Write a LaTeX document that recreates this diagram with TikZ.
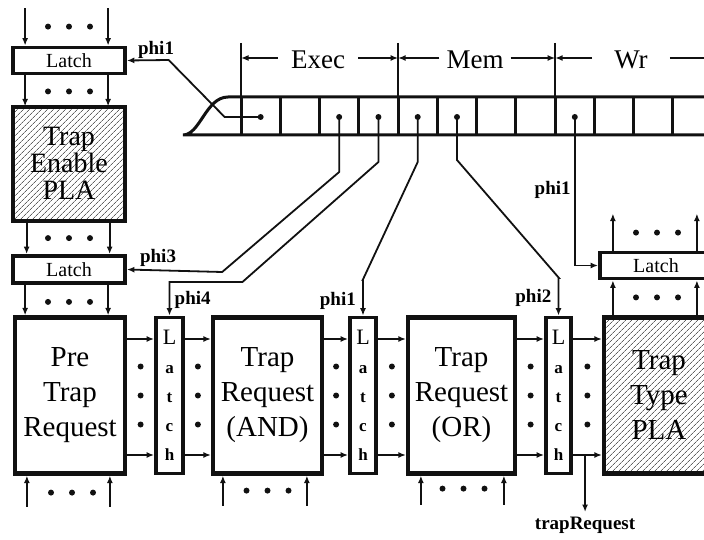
\documentclass[tikz,border=0pt]{standalone}
\usepackage{fontspec}
\setmainfont{Liberation Serif}
\usetikzlibrary{positioning,arrows.meta,calc,patterns.meta}
\definecolor{cInk}  {HTML}{111111}
\definecolor{cHatch}{HTML}{606060}
\tikzset{
  >={Latex[length=7.5pt,width=6pt]},
  sbox/.style={draw=cInk,line width=4.2pt,align=center,inner sep=0pt,
               minimum width=110pt,minimum height=156pt,
               font=\fontsize{29}{35}\selectfont},
  spla/.style={sbox,pattern={Lines[angle=45,distance=4pt,line width=0.7pt]},
               pattern color=cHatch},
  slat/.style={draw=cInk,line width=3.8pt,minimum width=112pt,minimum height=26pt,
               inner sep=0pt,font=\fontsize{20}{20}\selectfont},
  svlat/.style={draw=cInk,line width=3.8pt,minimum width=26pt,minimum height=156pt,
                inner sep=0pt,align=center,font=\bfseries\fontsize{17}{29}\selectfont},
  sar/.style ={->,line width=1.8pt,cInk},
  sin/.style ={<-,line width=1.8pt,cInk},
  sdim/.style={->,line width=1.5pt,cInk},
  sphi/.style={font=\bfseries\fontsize{19}{19}\selectfont,inner sep=1pt},
  sstg/.style={font=\fontsize{27}{27}\selectfont,inner ysep=0pt},
  spipe/.style={line width=3pt,cInk},
}
\newcommand{\rowdots}[2]{\foreach \k in {-1,0,1}
  \fill[cInk] ($(#1)+(#2)+(\k*21,0)$) circle (3pt);}
\newcommand{\coldots}[1]{\foreach \k in {-1,0,1}
  \fill[cInk] ($(#1)+(0,\k*29)$) circle (3pt);}
\begin{document}
\begin{tikzpicture}[x=1pt,y=-1pt]
  \useasboundingbox (0,0) rectangle (704,540);
  \clip (0,0) rectangle (704,540);
  % left column
  \node[slat] (latA) at (69,60.5) {Latch};
  \node[spla,minimum width=112pt,minimum height=114pt,
        font=\fontsize{28}{27}\selectfont,below=31pt of latA] (tep) {Trap\\Enable\\PLA};
  \node[slat,minimum height=27pt,below=33pt of tep] (latB) {Latch};
  % lower row
  \node[sbox] (pre) at (70,395.5) {Pre\\Trap\\Request};
  \node[svlat,minimum width=27pt,right=27pt of pre] (lv1)
       {{\mdseries\fontsize{22}{29}\selectfont L}\\a\\t\\c\\h};
  \node[sbox,minimum width=109pt,right=26pt of lv1] (andb) {Trap\\Request\\(AND)};
  \node[svlat,right=24pt of andb] (lv2)
       {{\mdseries\fontsize{22}{29}\selectfont L}\\a\\t\\c\\h};
  \node[sbox,minimum width=107pt,right=28pt of lv2] (orb) {Trap\\Request\\(OR)};
  \node[svlat,minimum width=25pt,right=27pt of orb] (lv3)
       {{\mdseries\fontsize{22}{29}\selectfont L}\\a\\t\\c\\h};
  \node[spla,right=29pt of lv3] (ttp) {Trap\\Type\\PLA};
  \node[slat,above=35pt of ttp,xshift=-3pt] (latC) {Latch};

  \foreach \xs in {14,97} {
    \draw[sin] ([xshift=\xs pt]latA.north west) -- ++(0,-38);
    \draw[sar] ([xshift=\xs pt]latA.south west) -- ([xshift=\xs pt]latA.south west |- tep.north);
    \draw[sar] ([xshift=\xs pt]tep.south west) -- ([xshift=\xs pt]tep.south west |- latB.north);
    \draw[sar] ([xshift=\xs pt]latB.south west) -- ([xshift=\xs pt]latB.south west |- pre.north);
    \draw[sin] ([xshift=\xs pt]pre.south west) -- ++(0,31);
  }
  \foreach \xs in {12,96} \draw[sin] ([xshift=\xs pt]andb.south west) -- ++(0,30);
  \foreach \xs in {15,98} \draw[sin] ([xshift=\xs pt]orb.south west) -- ++(0,29);
  \foreach \xs in {11,95} {
    \draw[sar] ([xshift=\xs pt]ttp.north west) -- ([xshift=\xs pt]ttp.north west |- latC.south);
    \draw[sar] ([xshift=\xs pt]ttp.north west |- latC.north) -- ++(0,-37);
  }
  \rowdots{latA.north}{0,-19}
  \rowdots{latA.south}{0,16}
  \rowdots{tep.south}{0,17}
  \rowdots{latB.south}{0,17}
  \rowdots{pre.south}{2,17}
  \rowdots{andb.south}{0,15}
  \rowdots{orb.south}{2,13}
  \rowdots{latC.north}{1,-18}
  \rowdots{latC.south}{1,17}

  \coordinate (rA) at (0,339);
  \coordinate (rB) at (0,455);
  \foreach \a/\b in {pre/lv1,lv1/andb,andb/lv2,lv2/orb,orb/lv3,lv3/ttp} {
    \draw[sar] (\a.east |- rA) -- (\b.west |- rA);
    \draw[sar] (\a.east |- rB) -- (\b.west |- rB);
    \coordinate (m) at ($(\a.east)!0.5!(\b.west)$);
    \coldots{m}
  }
  \coordinate (tap) at ($(lv3.east |- rB)!0.42!(ttp.west |- rB)$);
  \draw[sar] (tap) -- ++(0,57) coordinate (tapE);
  \node[sphi,below=4pt of tapE] (ltrq) {trapRequest};

  % pipeline
  \draw[spipe] (720,135) -- (183,135) .. controls (200,135) and (206,97) .. (228,97) -- (720,97);
  \foreach \i in {0,...,12}
    \draw[spipe] ({241+39.27*\i},97) -- ({241+39.27*\i},135);
  \foreach \i in {0,4,8}
    \draw[line width=1.8pt,cInk] ({241+39.27*\i},43) -- ({241+39.27*\i},135);
  \foreach \i in {1,...,12}
    \coordinate (c\i) at ({241+39.27*(\i-0.5)},117);

  \coordinate (t0) at (241,58);
  \coordinate (t1) at (398.1,58);
  \coordinate (t2) at (555.2,58);
  \coordinate (t3) at (712,58);
  \node[sstg,inner xsep=13pt] (sExec) at (318,60) {Exec};
  \node[sstg,inner xsep=7pt]  (sMem)  at (475,60) {Mem};
  \node[sstg,inner xsep=22pt] (sWr)   at (631,60) {Wr};
  \draw[sdim] (sExec.west |- t0) -- (t0);
  \draw[sdim] (sExec.east |- t0) -- (t1);
  \draw[sdim] (sMem.west |- t0) -- (t1);
  \draw[sdim] (sMem.east |- t0) -- (t2);
  \draw[sdim] (sWr.west |- t0) -- (t2);
  \draw[sdim] (sWr.east |- t0) -- (t3);

  % clock wires
  \draw[sar] (c1) -- ++(-36,0) -- ++(-56,-57) -- (latA.east);
  \draw[sar] (c3) -- ++(0,55) -- ++(-117,100) -- (latB.east);
  \draw[sar] (c4) -- ++(0,45) -- ++(-136,120) -| (lv1.north);
  \draw[sar] (c5) -- ++(0,45) -- ++(-55,118) -| (lv2.north);
  \draw[sar] (c6) -- ++(0,43) -- ++(102,118) -| (lv3.north);
  \draw[sar] (c9) |- (latC.west);
  \foreach \i in {1,3,4,5,6,9} \fill[cInk] (c\i) circle (3pt);

  \node[sphi,above right=1pt and 10pt of latA.east] (lphiA) {phi1};
  \node[sphi,above right=2pt and 12pt of latB.east] (lphiB) {phi3};
  \node[sphi,above right=6pt and 4pt of lv1.north]  (lphiC) {phi4};
  \node[sphi,above left=5pt and 6pt of lv2.north]   (lphiD) {phi1};
  \node[sphi,above left=8pt and 6pt of lv3.north]   (lphiE) {phi2};
  \node[sphi,below left=63pt and 3pt of c9]         (lphiF) {phi1};
\end{tikzpicture}
\end{document}
